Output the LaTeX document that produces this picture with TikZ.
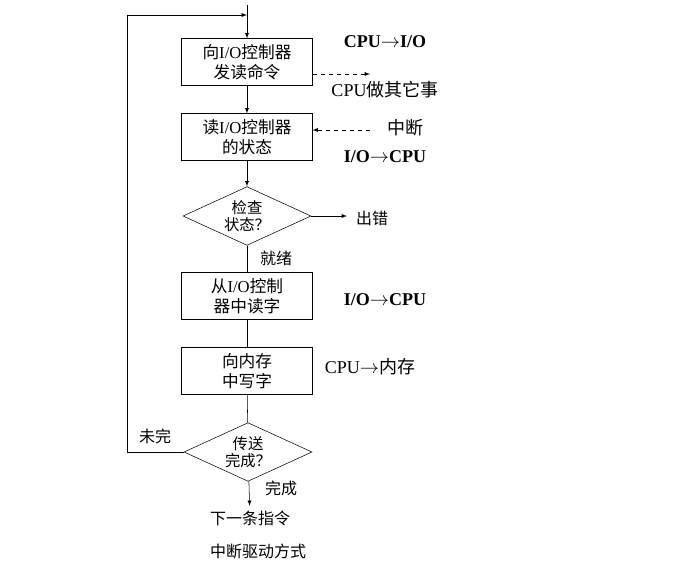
\documentclass[tikz,border=0pt]{standalone}
\usepackage{fontspec}
\setmainfont{Liberation Serif}
\newfontfamily\cjk{Noto Sans CJK SC}
\usetikzlibrary{arrows,shapes.geometric,calc}
\newcommand{\zh}[1]{{\cjk #1}}
\tikzstyle{stage}=[rectangle,draw,minimum width=98pt,minimum height=35pt,inner sep=1pt,align=center,font=\fontsize{12.5}{15}\selectfont]
\tikzstyle{test}=[diamond,draw,aspect=2.2,minimum width=96pt,minimum height=44pt,inner sep=0pt,align=center,font=\fontsize{11.5}{13}\selectfont]
\tikzstyle{note}=[font=\fontsize{12}{14}\selectfont]
\tikzstyle{side}=[font=\fontsize{13.5}{15}\selectfont]
\tikzstyle{flow}=[->,>=latex]

\begin{document}
\begin{tikzpicture}[x=0.75pt,y=-0.75pt]
    \useasboundingbox (0,0) rectangle (678,572);
    \node[stage] (b1) at (247,62) {\zh{向}I/O\zh{控制器}\\\zh{发读命令}};
    \node[stage] (b2) at (247,137) {\zh{读}I/O\zh{控制器}\\\zh{的状态}};
    \node[test] (d1) at (247,216) {\zh{检查}\\\zh{状态？}};
    \node[stage] (b3) at (247,296) {\zh{从}I/O\zh{控制}\\\zh{器中读字}};
    \node[stage] (b4) at (247,371) {\zh{向内存}\\\zh{中写字}};
    \node[test] (d2) at (248,452) {\zh{传送}\\\zh{完成？}};
    \node[note] (next) at (250,518) {\zh{下一条指令}};
    \node[note] (cap) at (258,551) {\zh{中断驱动方式}};
    \node[note] (err) at (372,218) {\zh{出错}};
    \node[note] (ready) at (276,258) {\zh{就绪}};
    \node[note] (undone) at (155,436) {\zh{未完}};
    \node[note] (done) at (281,488) {\zh{完成}};
    \node[side] (l1) at (385,42) {\bfseries CPU$\rightarrow$I/O};
    \node[side] (l2) at (385,90) {CPU\zh{做其它事}};
    \node[side] (l3) at (405,128) {\zh{中断}};
    \node[side] (l4) at (385,157) {\bfseries I/O$\rightarrow$CPU};
    \node[side] (l5) at (385,300) {\bfseries I/O$\rightarrow$CPU};
    \node[side] (l6) at (370,367) {CPU$\rightarrow$\zh{内存}};
    \coordinate (top) at (247,5);
    \coordinate (join) at (247,15);
    \coordinate (corner) at (127,15);
    \coordinate (busy) at (370,74);
    \coordinate (irq) at (370,130);
    \coordinate (fail) at (347,216);
    \draw [flow] (top) to (b1);
    \draw [flow] (b1) to (b2);
    \draw [flow] (b2) to (d1);
    \draw (d1) to (b3);
    \draw (b3) to (b4);
    \draw (b4) to (d2);
    \draw [flow] (d2) to (next);
    \draw [flow] (d1) to (fail);
    \draw [flow] (d2.west) -- (corner |- d2.west) -- (corner) -- (join);
    \draw [flow,dashed] (b1.east |- busy) to (busy);
    \draw [flow,dashed] (irq) to (b2.east |- irq);
\end{tikzpicture}
\end{document}
